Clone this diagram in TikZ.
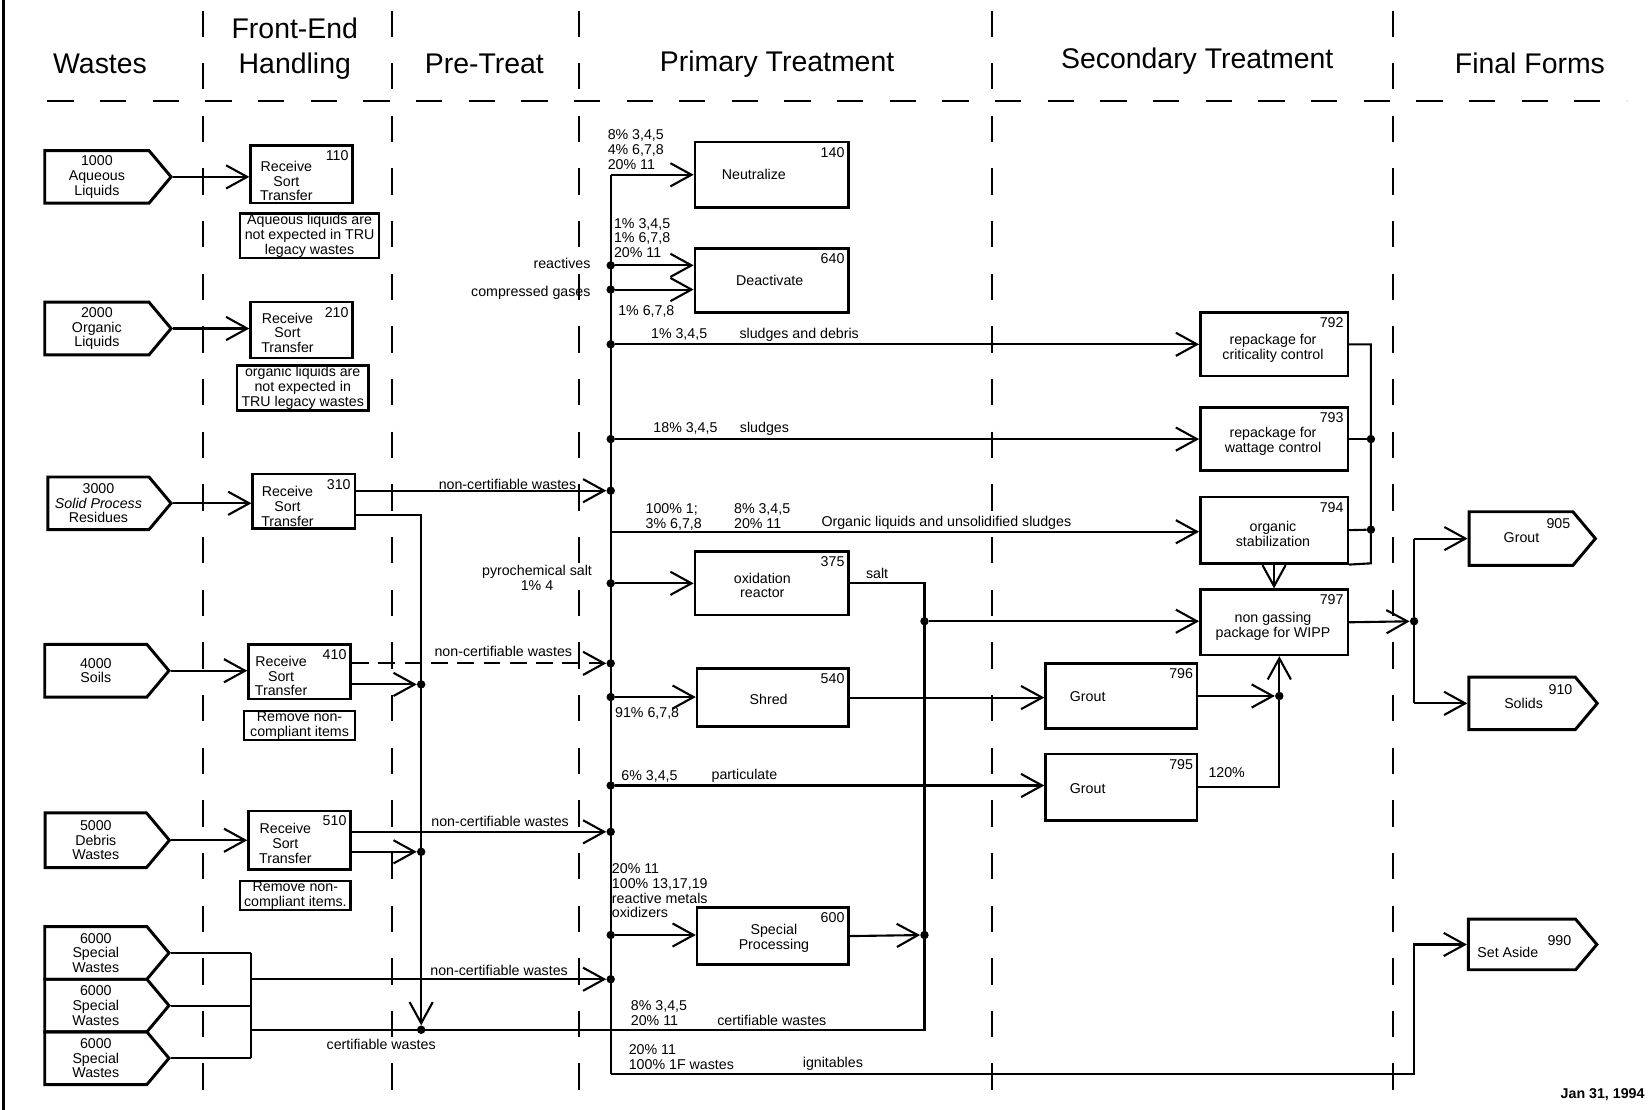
\documentclass[tikz,border=0pt]{standalone}
\usepackage{fontspec}
\setmainfont{Liberation Sans}
\usetikzlibrary{arrows.meta,shapes.symbols}

\begin{document}
\begin{tikzpicture}[x=1pt,y=-1pt,
    line/.style={line width=2pt},
    flow/.style={line, -{Straight Barb[length=20pt,width=22pt]}},
    proc/.style={draw, line width=2.4pt, rectangle, inner sep=0pt},
    note/.style={draw, line width=2.2pt, rectangle, inner sep=1pt, align=center,
        font=\fontsize{13.5}{14}\selectfont},
    waste/.style={draw, line width=2.8pt, signal, signal to=east,
        signal pointer angle=100, inner sep=0pt, align=center,
        font=\fontsize{13.5}{14}\selectfont},
    txt/.style={inner sep=0pt, align=center, font=\fontsize{13.5}{14}\selectfont},
    num/.style={inner xsep=5pt, inner ysep=6pt, font=\fontsize{13.5}{14}\selectfont},
    head/.style={inner sep=0pt, align=center, font=\fontsize{27}{33}\selectfont},
    sep/.style={line width=2.2pt, dash pattern=on 25pt off 25pt},
    dot/.style={circle, fill, inner sep=0pt, minimum size=8pt}]

\useasboundingbox (0,0) rectangle (1568,1054);

% Column headers and separators
\draw[line width=3pt] (3,0) -- (3,1054);
\foreach \x in {193,372,550,942,1323}
    \draw[sep] (\x,10) -- (\x,1054);
\draw[sep] (45,96) -- (1545,96);

\node[head] (hWaste) at (95,61) {Wastes};
\node[head] (hFront) at (280,46) {Front-End\\Handling};
\node[head] (hPre) at (460,61) {Pre-Treat};
\node[head] (hPrim) at (738,61) {Primary Treatment};
\node[head] (hSec) at (1137,58) {Secondary Treatment};
\node[head] (hFin) at (1453,60) {Final Forms};

% Wastes
\node[waste, minimum width=120pt, minimum height=50pt] (w1000) at (92,168) {1000\\Aqueous\\Liquids};
\node[waste, minimum width=120pt, minimum height=50pt] (w2000) at (92,312) {2000\\Organic\\Liquids};
\node[waste, minimum width=117pt, minimum height=50pt] (w3000) at (93.5,478) {3000\\\textit{Solid Process}\\Residues};
\node[waste, minimum width=118pt, minimum height=50pt] (w4000) at (91,637) {4000\\Soils};
\node[waste, minimum width=118pt, minimum height=52pt] (w5000) at (91,798) {5000\\Debris\\Wastes};
\node[waste, minimum width=118pt, minimum height=50pt] (w6000a) at (91,905) {6000\\Special\\Wastes};
\node[waste, minimum width=118pt, minimum height=50pt] (w6000b) at (91,955) {6000\\Special\\Wastes};
\node[waste, minimum width=118pt, minimum height=50pt] (w6000c) at (91,1005) {6000\\Special\\Wastes};

% Front-end handling
\node[proc, minimum width=97pt, minimum height=55pt] (b110) at (286.5,165.5) {};
\node[txt] (t110) at (272,172) {Receive\\Sort\\Transfer};
\node[num, anchor=north east] (n110) at (b110.north east) {110};
\node[note, minimum width=132pt, minimum height=42pt] (note110) at (294,224)
    {Aqueous liquids are\\not expected in TRU\\legacy wastes};

\node[proc, minimum width=97pt, minimum height=53pt] (b210) at (286.5,313.5) {};
\node[txt] (t210) at (273,316) {Receive\\Sort\\Transfer};
\node[num, anchor=north east] (n210) at (b210.north east) {210};
\node[note, minimum width=125pt, minimum height=43pt] (note210) at (287.5,368.5)
    {organic liquids are\\not expected in\\TRU legacy wastes};

\node[proc, minimum width=97pt, minimum height=52pt] (b310) at (288.5,476) {};
\node[txt] (t310) at (273,481) {Receive\\Sort\\Transfer};
\node[num, anchor=north east] (n310) at (b310.north east) {310};

\node[proc, minimum width=97pt, minimum height=52pt] (b410) at (284.5,638) {};
\node[txt] (t410) at (267,642) {Receive\\Sort\\Transfer};
\node[num, anchor=north east] (n410) at (b410.north east) {410};
\node[note, minimum width=105pt, minimum height=26pt] (note410) at (284.5,689)
    {Remove non-\\compliant items};

\node[proc, minimum width=97pt, minimum height=56pt] (b510) at (284.5,798) {};
\node[txt] (t510) at (271,801) {Receive\\Sort\\Transfer};
\node[num, anchor=north east] (n510) at (b510.north east) {510};
\node[note, minimum width=105pt, minimum height=25pt] (note510) at (280.5,850.5)
    {Remove non-\\compliant items.};

% Primary treatment
\node[proc, minimum width=146pt, minimum height=62pt] (b140) at (733,166) {};
\node[txt] (t140) at (716,166) {Neutralize};
\node[num, anchor=north east] (n140) at (b140.north east) {140};

\node[proc, minimum width=146pt, minimum height=61pt] (b640) at (733,266.5) {};
\node[txt] (t640) at (731,266) {Deactivate};
\node[num, anchor=north east] (n640) at (b640.north east) {640};

\node[proc, minimum width=146pt, minimum height=60pt] (b375) at (733,554) {};
\node[txt] (t375) at (724,556) {oxidation\\reactor};
\node[num, anchor=north east] (n375) at (b375.north east) {375};

\node[proc, minimum width=144pt, minimum height=55pt] (b540) at (734,662.5) {};
\node[txt] (t540) at (730,664) {Shred};
\node[num, anchor=north east] (n540) at (b540.north east) {540};

\node[proc, minimum width=144pt, minimum height=54pt] (b600) at (734,889) {};
\node[txt] (t600) at (735,891) {Special\\Processing};
\node[num, anchor=north east] (n600) at (b600.north east) {600};

% Secondary treatment
\node[proc, minimum width=140pt, minimum height=60pt] (b792) at (1210,327) {};
\node[txt] (t792) at (1209,331) {repackage for\\criticality control};
\node[num, anchor=north east] (n792) at (b792.north east) {792};

\node[proc, minimum width=140pt, minimum height=60pt] (b793) at (1210,417) {};
\node[txt] (t793) at (1209,419) {repackage for\\wattage control};
\node[num, anchor=north east] (n793) at (b793.north east) {793};

\node[proc, minimum width=140pt, minimum height=63pt] (b794) at (1210,503.5) {};
\node[txt] (t794) at (1209,507) {organic\\stabilization};
\node[num, anchor=north east] (n794) at (b794.north east) {794};

\node[proc, minimum width=140pt, minimum height=62pt] (b797) at (1210,591) {};
\node[txt] (t797) at (1209,595) {non gassing\\package for WIPP};
\node[num, anchor=north east] (n797) at (b797.north east) {797};

\node[proc, minimum width=144pt, minimum height=62pt] (b796) at (1065,661) {};
\node[txt] (t796) at (1033,662) {Grout};
\node[num, anchor=north east] (n796) at (b796.north east) {796};

\node[proc, minimum width=144pt, minimum height=63pt] (b795) at (1065,747.5) {};
\node[txt] (t795) at (1033,749) {Grout};
\node[num, anchor=north east] (n795) at (b795.north east) {795};

% Final forms
\node[waste, minimum width=120pt, minimum height=51pt] (f905) at (1444.5,511.5) {};
\node[txt] (t905) at (1445,511) {Grout};
\node[txt] (n905) at (1480,497) {905};
\node[waste, minimum width=122pt, minimum height=50pt] (f910) at (1445.5,668) {};
\node[txt] (t910) at (1447,668) {Solids};
\node[txt] (n910) at (1482,655) {910};
\node[waste, minimum width=122pt, minimum height=48pt] (f990) at (1445.5,897) {};
\node[txt] (t990) at (1432,905) {Set Aside};
\node[txt] (n990) at (1481,893) {990};

% Junctions
\coordinate (bTop) at (580,166);
\coordinate (j505) at (580,505);
\coordinate (j1020) at (580,1020);
\foreach \y in {252,275,327,417,466,554,630,662,746,790,888,930}
    \node[dot] (j\y) at (580,\y) {};
\coordinate (c489) at (400,489);
\node[dot] (k650) at (400,650) {};
\node[dot] (k809) at (400,809) {};
\node[dot] (k978) at (400,978) {};
\coordinate (s905) at (238,905);
\coordinate (s930) at (238,930);
\coordinate (s955) at (238,955);
\coordinate (s978) at (238,978);
\coordinate (s1005) at (238,1005);
\coordinate (m554) at (878,554);
\node[dot] (m590) at (878,590) {};
\node[dot] (m888) at (878,888) {};
\coordinate (m978) at (878,978);
\coordinate (r327) at (1302,327);
\node[dot] (r417) at (1302,417) {};
\node[dot] (r503) at (1302,503) {};
\coordinate (r535) at (1302,535);
\node[dot] (q661) at (1215,661) {};
\node[dot] (z590) at (1343,590) {};
\coordinate (g1020) at (1343,1020);

% Wastes into front-end
\draw[flow] (w1000.east) -- (w1000.east -| b110.west);
\draw[flow] (w2000.east) -- (w2000.east -| b210.west);
\draw[flow] (w3000.east) -- (w3000.east -| b310.west);
\draw[flow] (w4000.east) -- (w4000.east -| b410.west);
\draw[flow] (w5000.east) -- (w5000.east -| b510.west);
\draw[line] (w6000a.east) -- (s905);
\draw[line] (w6000b.east) -- (s955);
\draw[line] (w6000c.east) -- (s1005);
\draw[line] (s905) -- (s1005);

% Front-end to primary
\draw[flow] (b310.east |- j466) -- (j466);
\draw[flow] (b310.east |- c489) -- (c489) -- (k978);
\draw[flow, dash pattern=on 16pt off 9pt] (b410.east |- j630) -- (j630);
\draw[flow] (b410.east |- k650) -- (k650);
\draw[flow] (b510.east |- j790) -- (j790);
\draw[flow] (b510.east |- k809) -- (k809);
\draw[flow] (s930) -- (j930);
\draw[line] (s978) -- (m978) -- (m554) -- (b375.east);

\node[txt] (l310) at (482,460) {non-certifiable wastes};
\node[txt] (l410) at (478,619) {non-certifiable wastes};
\node[txt] (l510) at (475,780) {non-certifiable wastes};
\node[txt] (l6000) at (474,922) {non-certifiable wastes};
\node[txt] (lcert) at (362,992) {certifiable wastes};

% Primary bus
\draw[line] (bTop) -- (j1020);
\draw[flow] (bTop) -- (bTop -| b140.west);
\draw[flow] (j252) -- (j252 -| b640.west);
\draw[flow] (j275) -- (j275 -| b640.west);
\draw[flow] (j327) -- (j327 -| b792.west);
\draw[flow] (j417) -- (j417 -| b793.west);
\draw[flow] (j505) -- (j505 -| b794.west);
\draw[flow] (j554) -- (j554 -| b375.west);
\draw[flow] (j662) -- (j662 -| b540.west);
\draw[flow] (j746) -- (j746 -| b795.west);
\draw[flow] (j888) -- (j888 -| b600.west);
\draw[flow] (j1020) -- (g1020) -- (g1020 |- f990.west) -- (f990.west);

\node[txt, anchor=north west, align=left] (p140) at (577,123) {8\% 3,4,5\\4\% 6,7,8\\20\% 11};
\node[txt, anchor=north west, align=left] (p640) at (583,207) {1\% 3,4,5\\1\% 6,7,8\\20\% 11};
\node[txt, anchor=east] (lreact) at (561,250) {reactives};
\node[txt, anchor=east] (lgas) at (561,278) {compressed gases};
\node[txt, anchor=west] (p640b) at (587,296) {1\% 6,7,8};
\node[txt] (p792a) at (645,318) {1\% 3,4,5};
\node[txt] (p792b) at (759,318) {sludges and debris};
\node[txt] (p793a) at (651,407) {18\% 3,4,5};
\node[txt] (p793b) at (726,407) {sludges};
\node[txt, anchor=north west, align=left] (p794a) at (613,478) {100\% 1;\\3\% 6,7,8};
\node[txt, anchor=north west, align=left] (p794b) at (697,478) {8\% 3,4,5\\20\% 11};
\node[txt, anchor=west] (p794c) at (780,497) {Organic liquids and unsolidified sludges};
\node[txt] (p375) at (510,549) {pyrochemical salt\\1\% 4};
\node[txt] (lsalt) at (833,545) {salt};
\node[txt, anchor=west] (p540) at (584,678) {91\% 6,7,8};
\node[txt, anchor=west] (p795a) at (590,737) {6\% 3,4,5};
\node[txt] (p795b) at (707,737) {particulate};
\node[txt, anchor=north west, align=left] (p600) at (581,820) {20\% 11\\100\% 13,17,19\\reactive metals\\oxidizers};
\node[txt, anchor=north west, align=left] (pcert) at (599,950) {8\% 3,4,5\\20\% 11};
\node[txt] (lcert2) at (733,969) {certifiable wastes};
\node[txt, anchor=north west, align=left] (pign) at (597,992) {20\% 11\\100\% 1F wastes};
\node[txt] (lign) at (791,1010) {ignitables};

% Primary to secondary
\draw[flow] (b600.east) -- (m888);
\draw[flow] (m590) -- (m590 -| b797.west);
\draw[flow] (b540.east) -- (b540.east -| b796.west);

% Secondary treatment
\draw[line] (b792.east) -- (r327) -- (r535) -- (b794.south east);
\draw[line] (b793.east) -- (r417);
\draw[line] (b794.east) -- (r503);
\draw[flow] (b794.south) -- (b797.north);
\draw[flow] (b796.east) -- (q661);
\draw[flow] (b795.east) -- (b795.east -| q661) -- (q661 |- b797.south);
\node[txt] (p120) at (1165,734) {120\%};

% Final forms
\draw[flow] (b797.east) -- (z590);
\draw[line] (z590 |- f905.west) -- (z590 |- f910.west);
\draw[flow] (z590 |- f905.west) -- (f905.west);
\draw[flow] (z590 |- f910.west) -- (f910.west);

\node[txt, anchor=east, font=\fontsize{13.5}{14}\selectfont\bfseries] (date) at (1562,1040) {Jan 31, 1994};

\end{tikzpicture}
\end{document}
